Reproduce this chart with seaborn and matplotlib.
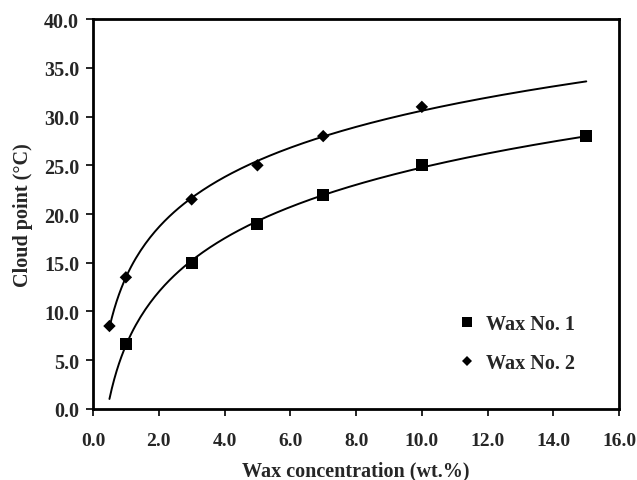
import numpy as np
import pandas as pd
import matplotlib
matplotlib.use("Agg")
import matplotlib.pyplot as plt
import seaborn as sns

# Data
wax1_x = [1, 3, 5, 7, 10, 15]
wax1_y = [6.7, 15.0, 19.0, 22.0, 25.0, 28.0]
wax2_x = [0.5, 1, 3, 5, 7, 10]
wax2_y = [8.5, 13.5, 21.5, 25.0, 28.0, 31.0]
curve_range = (0.5, 15)
series_names = ["Wax No. 1", "Wax No. 2"]
x_ticks = [0, 2, 4, 6, 8, 10, 12, 14, 16]
y_ticks = [0, 5, 10, 15, 20, 25, 30, 35, 40]

sns.set_style("white")
plt.rcParams['font.family'] = ['Liberation Serif', 'DejaVu Serif']
plt.rcParams['font.weight'] = 'bold'

fig = plt.figure(figsize=(6.37, 4.81), dpi=100)
ax = fig.add_axes([0.146, 0.148, 0.826, 0.81])

# Logarithmic trendlines (fit of y on ln x, like a spreadsheet trendline)
xs = np.linspace(curve_range[0], curve_range[1], 200)
for xd, yd in [(wax1_x, wax1_y), (wax2_x, wax2_y)]:
    b, a = np.polyfit(np.log(xd), yd, 1)
    sns.lineplot(x=xs, y=a + b * np.log(xs), ax=ax, color="black", lw=1.4, zorder=2)

df = pd.concat([
    pd.DataFrame({"x": wax1_x, "y": wax1_y, "s": series_names[0]}),
    pd.DataFrame({"x": wax2_x, "y": wax2_y, "s": series_names[1]}),
])
sns.scatterplot(data=df, x="x", y="y", hue="s", style="s",
                markers={series_names[0]: "s", series_names[1]: "D"},
                palette={series_names[0]: "black", series_names[1]: "black"},
                size="s", sizes={series_names[0]: 75, series_names[1]: 40},
                edgecolor="black", linewidth=0, ax=ax, zorder=3)

ax.set_xlim(0, 16)
ax.set_ylim(0, 40)
ax.set_xticks(x_ticks)
ax.set_yticks(y_ticks)
ax.set_xticklabels([f"{t:.1f}" for t in x_ticks], fontsize=14, fontweight="bold")
ax.set_yticklabels([f"{t:.1f}" for t in y_ticks], fontsize=14.5, fontweight="bold")
ax.tick_params(axis="both", direction="out", length=5, width=1.2, color="black",
               bottom=True, left=True)
ax.tick_params(axis="x", pad=12)
ax.tick_params(axis="y", pad=5)
for sp in ax.spines.values():
    sp.set_visible(True)
    sp.set_color("black")
    sp.set_linewidth(2)

ax.set_xlabel("Wax concentration (wt.%)", fontsize=14.5, fontweight="bold", labelpad=8)
ax.set_ylabel("Cloud point (°C)", fontsize=14.5, fontweight="bold", labelpad=8)

handles, labels = ax.get_legend_handles_labels()
leg = ax.legend(handles[:2], labels[:2], loc="lower right",
                bbox_to_anchor=(0.95, 0.045), frameon=False,
                prop={"size": 14.5, "weight": "bold"}, handletextpad=0.35,
                labelspacing=0.95, markerscale=0.8, handlelength=1.2)

fig.savefig("out.png", dpi=100)
